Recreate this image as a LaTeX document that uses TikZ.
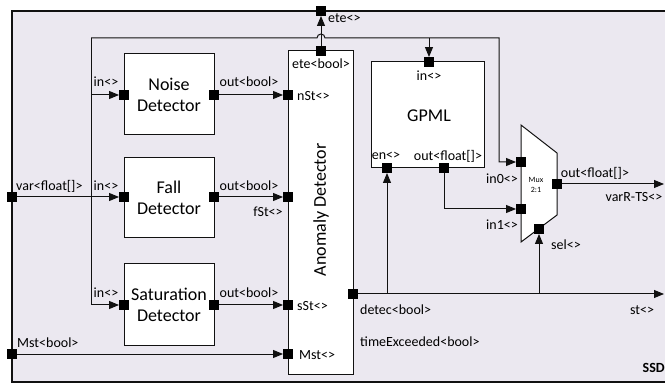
\documentclass[tikz,border=0pt]{standalone}
\usepackage{fontspec}
\setmainfont{Carlito}
\usetikzlibrary{arrows.meta}
\definecolor{ssdbg}{HTML}{EBE8F0}
\definecolor{ssdfg}{HTML}{111111}

\begin{document}
\begin{tikzpicture}[x=1pt,y=-1pt,>={Triangle[length=10pt,width=8pt]}]
  \tikzstyle{frame}=[draw=ssdfg, line width=1.2pt]
  \tikzstyle{block}=[draw=ssdfg, fill=white, line width=1pt]
  \tikzstyle{port}=[fill=black, minimum size=9.5pt, inner sep=0pt]
  \tikzstyle{wire}=[draw=ssdfg, line width=1pt]
  \tikzstyle{lbl}=[font=\fontsize{14}{16}\selectfont, inner sep=0pt]
  \tikzstyle{title}=[font=\fontsize{18}{21}\selectfont, align=center]

  \useasboundingbox (0,0) rectangle (665,385);
  \fill[ssdbg] (12,11) rectangle (670,382);
  \draw[frame] (670,11) -- (12,11) -- (12,382) -- (670,382);

  % blocks
  \draw[block] (124,54) rectangle (214,135);
  \draw[block] (124,158) rectangle (214,238);
  \draw[block] (124,264) rectangle (214,345);
  \draw[block] (288,51) rectangle (353,374);
  \draw[block] (371,62) rectangle (484,168);
  \draw[block] (521,125) -- (557,153) -- (557,215) -- (521,242) -- cycle;

  \node[title] (noise) at (169,95) {Noise\\Detector};
  \node[title] (fall) at (169,198) {Fall\\Detector};
  \node[title] (satur) at (169,305) {Saturation\\Detector};
  \node[title, rotate=90] (anom) at (321,210) {Anomaly Detector};
  \node[title] (gpml) at (429,116) {GPML};
  \node[font=\fontsize{8}{10}\selectfont, align=center] (mux) at (536,185) {Mux\\2:1};

  % ports
  \foreach \name/\x/\y in {varP/12/197, mstP/12/354, eteP/321/11,
    nIn/124/95, nOut/214/95, fIn/124/197, fOut/214/197, sIn/124/305, sOut/214/305,
    aN/288/95, aF/288/197, aS/288/305, aM/288/354, aEte/321/51, aDet/353/294,
    gIn/429/62, gEn/387/168, gOut/444/168,
    m0/521/162, m1/521/209, mOut/557/184, mSel/539/229} {
    \node[port] (\name) at (\x,\y) {};
  }
  \coordinate (tl) at (91,38);
  \coordinate (bl) at (91,305);
  \coordinate (tr) at (499,38);
  \coordinate (vrEnd) at (664,184);
  \coordinate (stEnd) at (664,294);

  % wires
  \draw[wire,->] (varP) -- (fIn);
  \draw[wire] (tl) -- (bl);
  \draw[wire,->] (tl |- nIn) -- (nIn);
  \draw[wire,->] (bl) -- (sIn);
  \draw[wire,->] (tl) -- (317,38) arc[start angle=180, end angle=360, radius=4]
    -- (tr) -- (tr |- m0) -- (m0);
  \draw[wire,->] (gIn |- tl) -- (gIn);
  \draw[wire,->] (nOut) -- (aN);
  \draw[wire,->] (fOut) -- (aF);
  \draw[wire,->] (sOut) -- (aS);
  \draw[wire,->] (mstP) -- (aM);
  \draw[wire,->] (aEte) -- (eteP);
  \draw[wire,->] (aDet) -- (stEnd);
  \draw[wire,->] (gEn |- aDet) -- (gEn);
  \draw[wire,->] (mSel |- aDet) -- (mSel);
  \draw[wire,->] (gOut) |- (m1);
  \draw[wire,->] (mOut) -- (vrEnd);

  % port labels
  \node[lbl, anchor=west] at (328,18) {ete<>};
  \node[lbl, anchor=west] at (16,186) {var<float[]>};
  \node[lbl, anchor=west] at (17,343) {Mst<bool>};
  \foreach \y in {82,186,293} {
    \node[lbl] at (106,\y) {in<>};
    \node[lbl] at (249,\y) {out<bool>};
  }
  \node[lbl, anchor=west] at (297,96) {nSt<>};
  \node[lbl] at (268,212) {fSt<>};
  \node[lbl, anchor=west] at (297,306) {sSt<>};
  \node[lbl, anchor=west] at (299,355) {Mst<>};
  \node[lbl] at (321,64) {ete<bool>};
  \node[lbl, anchor=west] at (360,310) {detec<bool>};
  \node[lbl, anchor=west] at (360,342) {timeExceeded<bool>};
  \node[lbl] at (429,76) {in<>};
  \node[lbl] at (386,156) {en<>};
  \node[lbl] at (448,156) {out<float[]>};
  \node[lbl] at (502,179) {in0<>};
  \node[lbl] at (502,225) {in1<>};
  \node[lbl] at (595,173) {out<float[]>};
  \node[lbl] at (634,197) {varR-TS<>};
  \node[lbl] at (566,245) {sel<>};
  \node[lbl] at (642,310) {st<>};
  \node[lbl, font=\fontsize{14}{16}\selectfont\bfseries, anchor=east] at (665,368) {SSD};
\end{tikzpicture}
\end{document}
